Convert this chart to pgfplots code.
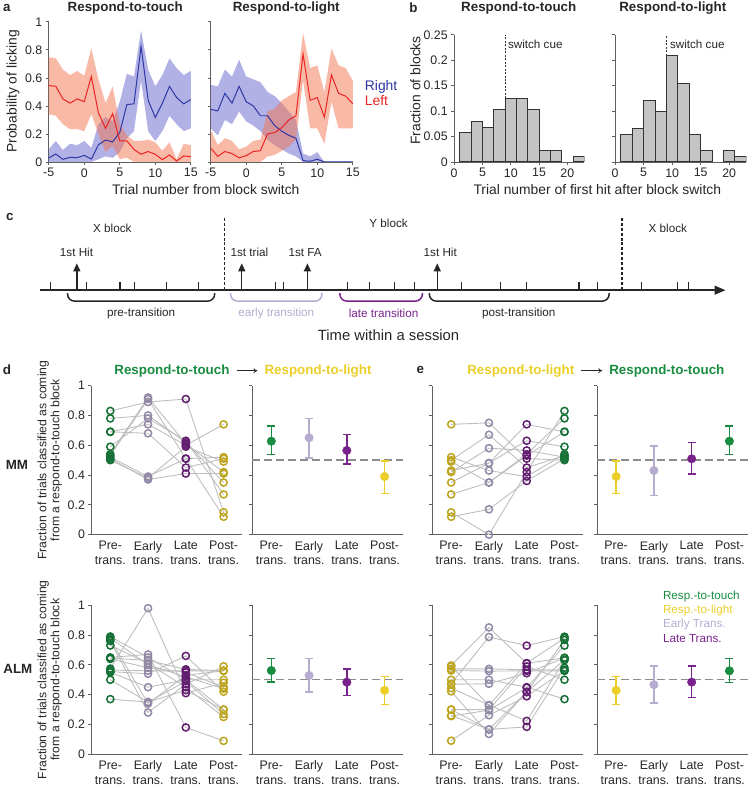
\documentclass[border=0pt]{standalone}
\usepackage{fontspec}
\setmainfont{Liberation Sans}
\usepackage{pgfplots}
\usepackage{pgfplotstable}
\pgfplotsset{compat=1.18}
\usepgfplotslibrary{fillbetween}
\usetikzlibrary{arrows.meta}

\definecolor{cblue}{RGB}{45,55,165}
\definecolor{cbluef}{RGB}{100,100,205}
\definecolor{cred}{RGB}{235,35,35}
\definecolor{credf}{RGB}{242,115,80}
\definecolor{cgreen}{RGB}{25,140,65}
\definecolor{cyellow}{RGB}{236,206,40}
\definecolor{clav}{RGB}{182,172,208}
\definecolor{cpurp}{RGB}{122,34,140}
\definecolor{caxis}{RGB}{95,95,95}
\definecolor{cbar}{RGB}{196,196,196}
\definecolor{cline}{RGB}{190,190,190}

\newcommand\fttl{\fontsize{13.5}{16}\selectfont\bfseries}
\newcommand\flab{\fontsize{14}{16}\selectfont}
\newcommand\ftick{\fontsize{12.5}{14}\selectfont}
\newcommand\fsm{\fontsize{11.8}{14}\selectfont}

\pgfplotsset{
  ax/.style={scale only axis, anchor=south west, axis lines*=left,
    axis line style={caxis, line width=0.9bp},
    tick style={caxis, line width=0.8bp}, tick align=outside, major tick length=3bp,
    tick label style={font=\ftick, text=black!85},
    /pgf/number format/assume math mode=true},
  de/.style={ax, width=152bp, height=150bp, xmin=0.5, xmax=4.5, ymin=0, ymax=1,
    clip=false, xtick={1,2,3,4},
    xticklabels={{Pre-\\trans.},{Early\\trans.},{Late\\trans.},{Post-\\trans.}},
    xticklabel style={align=center, font=\fontsize{12.5}{15}\selectfont},
    xtick style={draw=none},
    ytick={0,0.2,0.4,0.6,0.8,1}, yticklabels={},
    axis line style={caxis, line width=1.1bp},
    point meta min=1, point meta max=4},
  dmap/.style={colormap={dm}{rgb255=(25,140,65) rgb255=(182,172,208) rgb255=(122,34,140) rgb255=(236,206,40)}},
  emap/.style={colormap={em}{rgb255=(236,206,40) rgb255=(182,172,208) rgb255=(122,34,140) rgb255=(25,140,65)}},
}

% session values: rows = Pre, Early, Late, Post
\pgfplotstableread{
x s1 s2 s3 s4 s5 s6 s7 s8 s9 s10
1 0.83 0.78 0.69 0.69 0.59 0.54 0.53 0.52 0.51 0.50
2 0.89 0.80 0.74 0.68 0.78 0.92 0.91 0.39 0.37 0.38
3 0.91 0.62 0.60 0.45 0.63 0.61 0.51 0.51 0.41 0.59
4 0.15 0.35 0.74 0.51 0.27 0.42 0.52 0.12 0.41 0.49
}\dMM
\pgfplotstableread{
x s1 s2 s3 s4 s5 s6 s7 s8 s9 s10
1 0.74 0.52 0.50 0.43 0.42 0.35 0.27 0.15 0.12 0.49
2 0.75 0.43 0.67 0.48 0.58 0.48 0.35 0.00 0.17 0.35
3 0.51 0.39 0.45 0.63 0.565 0.74 0.54 0.42 0.36 0.53
4 0.50 0.54 0.53 0.59 0.52 0.69 0.78 0.83 0.51 0.69
}\eMM
\pgfplotstableread{
x s1 s2 s3 s4 s5 s6 s7 s8 s9 s10 s11 s12 s13 s14
1 0.79 0.77 0.76 0.73 0.65 0.645 0.64 0.575 0.565 0.555 0.55 0.50 0.37 0.78
2 0.65 0.34 0.28 0.61 0.67 0.63 0.58 0.98 0.56 0.54 0.45 0.35 0.35 0.60
3 0.50 0.53 0.47 0.45 0.18 0.57 0.55 0.41 0.56 0.66 0.50 0.49 0.43 0.52
4 0.30 0.56 0.59 0.25 0.09 0.56 0.45 0.48 0.56 0.42 0.50 0.27 0.30 0.44
}\dALM
\pgfplotstableread{
x s1 s2 s3 s4 s5 s6 s7 s8 s9 s10 s11 s12 s13 s14
1 0.596 0.573 0.562 0.50 0.473 0.444 0.422 0.30 0.256 0.091 0.59 0.47 0.30 0.26
2 0.851 0.573 0.558 0.50 0.787 0.33 0.136 0.167 0.296 0.262 0.329 0.473 0.30 0.167
3 0.611 0.567 0.56 0.45 0.729 0.224 0.418 0.184 0.447 0.389 0.611 0.544 0.589 0.418
4 0.647 0.567 0.56 0.37 0.789 0.633 0.767 0.58 0.729 0.562 0.78 0.647 0.50 0.633
}\eALM

\newcommand{\meanpt}[2]{\addplot[color=#1, only marks, mark=*, mark size=4.3bp,
  error bars/.cd, y dir=both, y explicit,
  error bar style={line width=1.4bp},
  error mark options={rotate=90, mark size=4bp, line width=1.4bp}] coordinates {#2};}
\newcommand{\sessions}[2]{%
  \pgfplotsinvokeforeach{1,...,#2}{\addplot[cline, line width=0.9bp] table[x=x, y=s##1] {#1};}
  \pgfplotsinvokeforeach{1,...,#2}{\addplot[scatter, only marks, mark=o, mark size=3.6bp,
    line width=1.5bp, point meta=x] table[x=x, y=s##1] {#1};}}
\newcommand{\half}{\addplot[black!45, line width=1.3bp, dash pattern=on 8bp off 4bp] coordinates {(0.5,0.5) (4.5,0.5)};}

\begin{document}
\begin{tikzpicture}

% ---------------- a
\begin{axis}[ax, at={(49bp,-163bp)}, width=143bp, height=141bp,
  xmin=-5, xmax=15, ymin=0, ymax=1, xtick={-5,0,5,10,15},
  ytick={0,0.2,0.4,0.6,0.8,1}, yticklabels={0,0.2,0.4,0.6,0.8,1}]
\addplot[draw=none, name path=ru] coordinates {(-5,0.747)(-4,0.74)(-3,0.66)(-2,0.62)(-1,0.65)(0,0.615)(1,0.81)(2,0.59)(3,0.42)(4,0.54)(5,0.27)(6,0.19)(7,0.15)(8,0.15)(9,0.16)(10,0.14)(11,0.08)(12,0.14)(13,0.02)(14,0.13)(15,0.12)};
\addplot[draw=none, name path=rl] coordinates {(-5,0.34)(-4,0.33)(-3,0.27)(-2,0.235)(-1,0.235)(0,0.22)(1,0.34)(2,0.2)(3,0.07)(4,0.115)(5,0.02)(6,0.03)(7,0)(8,0)(9,0)(10,0)(11,0)(12,0)(13,0)(14,0)(15,0)};
\addplot[draw=none, name path=bu] coordinates {(-5,0.09)(-4,0.15)(-3,0.085)(-2,0.13)(-1,0.12)(0,0.15)(1,0.10)(2,0.27)(3,0.32)(4,0.29)(5,0.43)(6,0.63)(7,0.61)(8,0.94)(9,0.66)(10,0.54)(11,0.62)(12,0.74)(13,0.67)(14,0.62)(15,0.65)};
\addplot[draw=none, name path=bl] coordinates {(-5,0)(-4,0)(-3,0)(-2,0)(-1,0)(0,0)(1,0)(2,0.02)(3,0.04)(4,0.03)(5,0.07)(6,0.17)(7,0.22)(8,0.58)(9,0.22)(10,0.15)(11,0.22)(12,0.33)(13,0.27)(14,0.22)(15,0.24)};
\addplot[fill=cbluef, fill opacity=0.5, draw=none] fill between[of=bu and bl];
\addplot[fill=credf, fill opacity=0.5, draw=none] fill between[of=ru and rl];
\addplot[cblue, line width=1bp] coordinates {(-5,0.028)(-4,0.057)(-3,0.019)(-2,0.033)(-1,0.031)(0,0.047)(1,0.021)(2,0.123)(3,0.156)(4,0.144)(5,0.21)(6,0.41)(7,0.415)(8,0.825)(9,0.44)(10,0.317)(11,0.42)(12,0.54)(13,0.46)(14,0.415)(15,0.445)};
\addplot[cred, line width=1bp] coordinates {(-5,0.546)(-4,0.54)(-3,0.45)(-2,0.42)(-1,0.45)(0,0.43)(1,0.61)(2,0.35)(3,0.24)(4,0.345)(5,0.15)(6,0.15)(7,0.09)(8,0.055)(9,0.075)(10,0.055)(11,0.017)(12,0.05)(13,0.007)(14,0.043)(15,0.038)};
\end{axis}

\begin{axis}[ax, at={(212bp,-163bp)}, width=143bp, height=141bp,
  xmin=-5, xmax=15, ymin=0, ymax=1, xtick={-5,0,5,10,15},
  ytick={0,0.2,0.4,0.6,0.8,1}, yticklabels={}]
\addplot[draw=none, name path=ru] coordinates {(-5,0.23)(-4,0.12)(-3,0.17)(-2,0.15)(-1,0.09)(0,0.11)(1,0.15)(2,0.16)(3,0.36)(4,0.38)(5,0.44)(6,0.47)(7,0.50)(8,0.92)(9,0.67)(10,0.69)(11,0.50)(12,0.81)(13,0.69)(14,0.67)(15,0.58)};
\addplot[draw=none, name path=rl] coordinates {(-5,0)(-4,0)(-3,0)(-2,0)(-1,0)(0,0)(1,0)(2,0)(3,0.04)(4,0.05)(5,0.08)(6,0.11)(7,0.16)(8,0.58)(9,0.24)(10,0.24)(11,0.13)(12,0.43)(13,0.24)(14,0.24)(15,0.24)};
\addplot[draw=none, name path=bu] coordinates {(-5,0.55)(-4,0.54)(-3,0.66)(-2,0.61)(-1,0.73)(0,0.61)(1,0.59)(2,0.57)(3,0.50)(4,0.47)(5,0.42)(6,0.36)(7,0.30)(8,0.06)(9,0.04)(10,0.07)(11,0)(12,0)(13,0)(14,0)(15,0)};
\addplot[draw=none, name path=bl] coordinates {(-5,0.24)(-4,0.19)(-3,0.30)(-2,0.27)(-1,0.36)(0,0.29)(1,0.26)(2,0.22)(3,0.16)(4,0.12)(5,0.09)(6,0.06)(7,0.04)(8,0)(9,0)(10,0)(11,0)(12,0)(13,0)(14,0)(15,0)};
\addplot[fill=cbluef, fill opacity=0.5, draw=none] fill between[of=bu and bl];
\addplot[fill=credf, fill opacity=0.5, draw=none] fill between[of=ru and rl];
\addplot[cblue, line width=1bp] coordinates {(-5,0.376)(-4,0.364)(-3,0.49)(-2,0.42)(-1,0.54)(0,0.43)(1,0.40)(2,0.33)(3,0.33)(4,0.26)(5,0.22)(6,0.19)(7,0.17)(8,0.01)(9,0.005)(10,0.02)(11,0)(12,0)(13,0)(14,0)(15,0)};
\addplot[cred, line width=1bp] coordinates {(-5,0.10)(-4,0.04)(-3,0.075)(-2,0.06)(-1,0.03)(0,0.045)(1,0.075)(2,0.08)(3,0.20)(4,0.21)(5,0.245)(6,0.30)(7,0.33)(8,0.77)(9,0.44)(10,0.46)(11,0.32)(12,0.62)(13,0.49)(14,0.47)(15,0.415)};
\end{axis}

% ---------------- b
\begin{axis}[ax, at={(457bp,-163bp)}, width=131bp, height=128bp,
  xmin=0, xmax=23, ymin=0, ymax=0.25, xtick={0,5,10,15,20},
  ytick={0,0.05,0.1,0.15,0.2,0.25}, yticklabels={0,0.05,0.1,0.15,0.2,0.25}]
\addplot[ybar, bar width=2, bar shift=0pt, fill=cbar, draw=black!80, line width=1bp] coordinates {(2,0.057)(4,0.08)(6,0.068)(8,0.103)(10,0.125)(12,0.125)(14,0.103)(16,0.023)(18,0.023)(22,0.011)};
\addplot[black!80, line width=0.8bp, dash pattern=on 2bp off 1.5bp] coordinates {(9,0.125)(9,0.25)};
\end{axis}
\begin{axis}[ax, at={(619bp,-163bp)}, width=132bp, height=128bp,
  xmin=0, xmax=23, ymin=0, ymax=0.25, xtick={0,5,10,15,20},
  ytick={0,0.05,0.1,0.15,0.2,0.25}, yticklabels={}]
\addplot[ybar, bar width=2, bar shift=0pt, fill=cbar, draw=black!80, line width=1bp] coordinates {(2,0.055)(4,0.066)(6,0.121)(8,0.099)(10,0.209)(12,0.154)(14,0.055)(16,0.022)(20,0.022)(22,0.011)};
\addplot[black!80, line width=0.8bp, dash pattern=on 2bp off 1.5bp] coordinates {(9,0.209)(9,0.25)};
\end{axis}

% ---------------- c (schematic, pixel coordinates)
\begin{axis}[scale only axis, anchor=south west, at={(0bp,-350bp)}, width=756bp, height=140bp,
  xmin=0, xmax=756, ymin=210, ymax=350, y dir=reverse, hide axis, clip=false]
\addplot[black!85, line width=1.4bp, -{Triangle[length=11bp,width=9bp]}] coordinates {(40,292)(730,292)};
\addplot[black!85, line width=1.2bp, quiver={u=0, v=-8}, -] coordinates {(50.7,292)(87.3,292)(120.7,292)(135,292)(167.7,292)(200,292)(277.3,292)(285,292)(350,292)(372,292)(397,292)(417,292)(464.3,292)(503.3,292)(530,292)(582.7,292)(601,292)(645.7,292)(681.7,292)(692.7,292)};
\addplot[black!85, line width=1.4bp, quiver={u=0, v=-27}, -{Triangle[length=8bp,width=7bp]}] coordinates {(77.3,292)(243.3,292)(309.3,292)(440,292)};
\addplot[black!85, line width=1.3bp, dash pattern=on 3bp off 2bp] coordinates {(225.7,219)(225.7,293)};
\addplot[black!85, line width=1.3bp, dash pattern=on 3bp off 2bp] coordinates {(626,219)(626,293)};
\addplot[black!85, line width=1.5bp, rounded corners=7bp] coordinates {(68,295)(68,303)(216,303)(216,295)};
\addplot[clav, line width=1.5bp, rounded corners=7bp] coordinates {(232,295)(232,303)(324,303)(324,295)};
\addplot[cpurp, line width=1.5bp, rounded corners=7bp] coordinates {(342,295)(342,303)(425,303)(425,295)};
\addplot[black!85, line width=1.5bp, rounded corners=7bp] coordinates {(432,295)(432,303)(613,303)(613,295)};
\end{axis}

% ---------------- d / e, row MM
\begin{axis}[de, dmap, at={(92bp,-538bp)}, yticklabels={0,0.2,0.4,0.6,0.8,1}]
\sessions{\dMM}{10}
\end{axis}
\begin{axis}[de, at={(254bp,-538bp)}]
\half
\meanpt{cgreen}{(1,0.627) += (0,0.101) -= (0,0.091)}
\meanpt{clav}{(2,0.65) += (0,0.13) -= (0,0.137)}
\meanpt{cpurp}{(3,0.565) += (0,0.107) -= (0,0.09)}
\meanpt{cyellow}{(4,0.39) += (0,0.105) -= (0,0.113)}
\end{axis}
\begin{axis}[de, emap, at={(435bp,-538bp)}]
\sessions{\eMM}{10}
\end{axis}
\begin{axis}[de, at={(601bp,-538bp)}]
\half
\meanpt{cyellow}{(1,0.39) += (0,0.105) -= (0,0.113)}
\meanpt{clav}{(2,0.43) += (0,0.164) -= (0,0.167)}
\meanpt{cpurp}{(3,0.509) += (0,0.111) -= (0,0.103)}
\meanpt{cgreen}{(4,0.627) += (0,0.101) -= (0,0.091)}
\end{axis}

% ---------------- d / e, row ALM
\begin{axis}[de, dmap, at={(92bp,-759bp)}, yticklabels={0,0.2,0.4,0.6,0.8,1}]
\sessions{\dALM}{14}
\end{axis}
\begin{axis}[de, at={(254bp,-759bp)}]
\half
\meanpt{cgreen}{(1,0.562) += (0,0.082) -= (0,0.078)}
\meanpt{clav}{(2,0.529) += (0,0.113) -= (0,0.111)}
\meanpt{cpurp}{(3,0.484) += (0,0.087) -= (0,0.088)}
\meanpt{cyellow}{(4,0.429) += (0,0.091) -= (0,0.093)}
\end{axis}
\begin{axis}[de, emap, at={(435bp,-759bp)}]
\sessions{\eALM}{14}
\end{axis}
\begin{axis}[de, at={(601bp,-759bp)}]
\half
\meanpt{cyellow}{(1,0.429) += (0,0.091) -= (0,0.093)}
\meanpt{clav}{(2,0.467) += (0,0.124) -= (0,0.123)}
\meanpt{cpurp}{(3,0.484) += (0,0.107) -= (0,0.104)}
\meanpt{cgreen}{(4,0.56) += (0,0.084) -= (0,0.078)}
\end{axis}

% ---------------- text
\begin{scope}[every node/.style={text=black!85, inner sep=0pt}]
\node[font=\fttl] at (7bp,-8bp) {a};
\node[font=\fttl] at (126bp,-8bp) {Respond-to-touch};
\node[font=\fttl] at (288bp,-8bp) {Respond-to-light};
\node[font=\flab, rotate=90] at (13bp,-92bp) {Probability of licking};
\node[font=\flab] at (207bp,-191bp) {Trial number from block switch};
\node[font=\flab, text=cblue, anchor=west] at (367bp,-87bp) {Right};
\node[font=\flab, text=cred, anchor=west] at (367bp,-101bp) {Left};

\node[font=\fttl] at (416bp,-8bp) {b};
\node[font=\fttl] at (522bp,-8bp) {Respond-to-touch};
\node[font=\fttl] at (677bp,-8bp) {Respond-to-light};
\node[font=\flab, rotate=90] at (418bp,-91bp) {Fraction of blocks};
\node[font=\flab] at (601bp,-191bp) {Trial number of first hit after block switch};
\node[font=\fsm, anchor=west] at (511bp,-45bp) {switch cue};
\node[font=\fsm, anchor=west] at (674bp,-45bp) {switch cue};

\node[font=\fttl] at (10bp,-218bp) {c};
\node[font=\fsm] at (113bp,-230bp) {X block};
\node[font=\fsm] at (391bp,-225bp) {Y block};
\node[font=\fsm] at (672bp,-230bp) {X block};
\node[font=\fsm] at (77bp,-254bp) {1st Hit};
\node[font=\fsm] at (251bp,-254bp) {1st trial};
\node[font=\fsm] at (307bp,-254bp) {1st FA};
\node[font=\fsm] at (443bp,-254bp) {1st Hit};
\node[font=\fsm] at (142bp,-315bp) {pre-transition};
\node[font=\fsm, text=clav] at (278bp,-315bp) {early transition};
\node[font=\fsm, text=cpurp] at (386bp,-315bp) {late transition};
\node[font=\fsm] at (522bp,-315bp) {post-transition};
\node[font=\fontsize{15}{17}\selectfont] at (391bp,-337bp) {Time within a session};

\node[font=\fttl] at (7bp,-372bp) {d};
\node[font=\fttl, text=cgreen] at (173bp,-373bp) {Respond-to-touch};
\node[font=\fttl, text=cyellow] at (320bp,-373bp) {Respond-to-light};
\node[font=\fttl] at (423bp,-372bp) {e};
\node[font=\fttl, text=cyellow] at (524bp,-373bp) {Respond-to-light};
\node[font=\fttl, text=cgreen] at (671bp,-373bp) {Respond-to-touch};
\node[font=\fttl] at (17bp,-468bp) {MM};
\node[font=\fttl] at (18bp,-673bp) {ALM};
\node[font=\fontsize{12.3}{13}\selectfont, rotate=90, align=center] at (50bp,-463bp) {Fraction of trials classified as coming\\from a respond-to-touch block};
\node[font=\fontsize{12.3}{13}\selectfont, rotate=90, align=center] at (50bp,-684bp) {Fraction of trials classified as coming\\from a respond-to-touch block};
\node[font=\fsm, text=cgreen, anchor=west] at (667bp,-600bp) {Resp.-to-touch};
\node[font=\fsm, text=cyellow, anchor=west] at (667bp,-614bp) {Resp.-to-light};
\node[font=\fsm, text=clav, anchor=west] at (667bp,-628bp) {Early Trans.};
\node[font=\fsm, text=cpurp, anchor=west] at (667bp,-643bp) {Late Trans.};
\end{scope}
\draw[black!85, line width=0.8bp, -{To[length=4bp,width=5bp]}] (238bp,-373bp) -- (259bp,-373bp);
\draw[black!85, line width=0.8bp, -{To[length=4bp,width=5bp]}] (585bp,-373bp) -- (606bp,-373bp);
\useasboundingbox (0,0) rectangle (756bp,-788bp);
\end{tikzpicture}
\end{document}
